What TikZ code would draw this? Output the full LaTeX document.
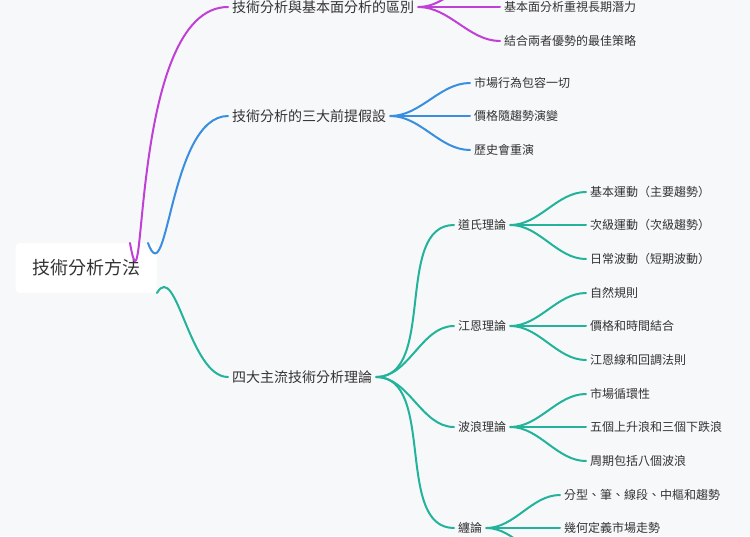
\documentclass[tikz,border=0pt]{standalone}
\usepackage{fontspec}
\setmainfont{Noto Sans CJK TC}
\definecolor{bg}{HTML}{F7F8FA}
\definecolor{txt}{HTML}{333333}
\definecolor{cmag}{HTML}{C03FD6}
\definecolor{cblu}{HTML}{3A8EE0}
\definecolor{ctea}{HTML}{22B39A}
\begin{document}
\begin{tikzpicture}[x=1pt,y=-1pt,
  t/.style={anchor=west,inner sep=0pt,text=txt,font=\fontsize{12}{14}\selectfont},
  l1/.style={anchor=west,inner sep=0pt,text=txt,font=\fontsize{14}{16}\selectfont},
  lk/.style={line width=2pt,line cap=round},
  hs/.style={out=0,in=180,looseness=0.9}]
\fill[bg] (0,0) rectangle (750,536);
\useasboundingbox (0,0) rectangle (750,536);
\clip (0,0) rectangle (750,536);
\node[fill=white,rounded corners=4pt,minimum width=141pt,minimum height=50pt,text=txt,font=\fontsize{18}{20}\selectfont] (root) at (86,268) {技術分析方法};
% level 1
\node[l1] (a) at (232,7) {技術分析與基本面分析的區別};
\node[l1] (b) at (232,116) {技術分析的三大前提假設};
\node[l1] (c) at (232,377) {四大主流技術分析理論};
\draw[lk,cmag] (130,243) to[out=-80,in=180,looseness=1] ([xshift=-4pt]a.west);
\draw[lk,cblu] (148,243) to[out=-70,in=180,looseness=1] ([xshift=-4pt]b.west);
\draw[lk,ctea] (157,293) to[out=60,in=180,looseness=0.9] ([xshift=-4pt]c.west);
% magenta children
\node[t] (a1) at (504,7) {基本面分析重視長期潛力};
\node[t] (a2) at (504,41) {結合兩者優勢的最佳策略};
\coordinate (a0) at (500,-27);
\foreach \n in {a0,a1,a2} \draw[lk,cmag] ([xshift=4pt]a.east) to[hs] ([xshift=-4pt]\n.west);
% blue children
\node[t] (b1) at (474,83) {市場行為包容一切};
\node[t] (b2) at (474,116) {價格隨趨勢演變};
\node[t] (b3) at (474,150) {歷史會重演};
\foreach \n in {b1,b2,b3} \draw[lk,cblu] ([xshift=4pt]b.east) to[hs] ([xshift=-4pt]\n.west);
% teal level 2
\node[t] (d) at (458,225) {道氏理論};
\node[t] (e) at (458,326) {江恩理論};
\node[t] (f) at (458,427) {波浪理論};
\node[t] (g) at (458,528) {纏論};
\foreach \n in {d,e,f,g} \draw[lk,ctea] ([xshift=4pt]c.east) to[hs] ([xshift=-4pt]\n.west);
\node[t] (d1) at (590,192) {基本運動（主要趨勢）};
\node[t] (d2) at (590,225) {次級運動（次級趨勢）};
\node[t] (d3) at (590,259) {日常波動（短期波動）};
\node[t] (e1) at (590,293) {自然規則};
\node[t] (e2) at (590,326) {價格和時間結合};
\node[t] (e3) at (590,360) {江恩線和回調法則};
\node[t] (f1) at (590,394) {市場循環性};
\node[t] (f2) at (590,427) {五個上升浪和三個下跌浪};
\node[t] (f3) at (590,461) {周期包括八個波浪};
\node[t] (g1) at (564,495) {分型、筆、線段、中樞和趨勢};
\node[t] (g2) at (564,528) {幾何定義市場走勢};
\coordinate (g3) at (564,562);
\foreach \n in {d1,d2,d3} \draw[lk,ctea] ([xshift=4pt]d.east) to[hs] ([xshift=-4pt]\n.west);
\foreach \n in {e1,e2,e3} \draw[lk,ctea] ([xshift=4pt]e.east) to[hs] ([xshift=-4pt]\n.west);
\foreach \n in {f1,f2,f3} \draw[lk,ctea] ([xshift=4pt]f.east) to[hs] ([xshift=-4pt]\n.west);
\foreach \n in {g1,g2,g3} \draw[lk,ctea] ([xshift=4pt]g.east) to[hs] ([xshift=-4pt]\n.west);
\end{tikzpicture}
\end{document}
